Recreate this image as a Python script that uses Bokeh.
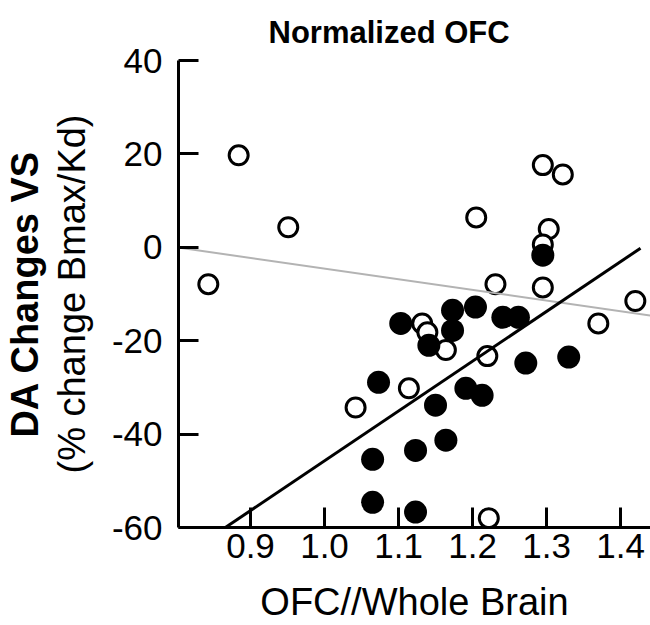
from bokeh.plotting import figure
from bokeh.embed import file_html
from bokeh.resources import INLINE
from bokeh.models import FixedTicker, ColumnDataSource, LinearAxis

# ---- data ----
open_x = [0.884, 0.951, 0.843, 1.205, 1.295, 1.322, 1.303, 1.295, 1.295, 1.231,
          1.420, 1.370, 1.132, 1.139, 1.164, 1.220, 1.114, 1.042, 1.222]
open_y = [19.7, 4.3, -7.9, 6.4, 17.6, 15.6, 3.9, 0.6, -8.6, -7.9,
          -11.5, -16.3, -16.3, -18.2, -22.0, -23.3, -30.2, -34.3, -58.0]

filled_x = [1.295, 1.103, 1.173, 1.204, 1.173, 1.141, 1.241, 1.262, 1.272, 1.330,
            1.073, 1.150, 1.191, 1.213, 1.164, 1.123, 1.065, 1.065, 1.123]
filled_y = [-1.7, -16.3, -13.5, -12.8, -17.8, -21.0, -15.0, -15.0, -24.8, -23.5,
            -28.9, -33.8, -30.2, -31.7, -41.3, -43.5, -45.4, -54.6, -56.7]

# regression lines (end points)
open_fit_x = [0.80, 1.44]
open_fit_y = [0.0, -14.6]
filled_fit_x = [0.866, 1.427]
filled_fit_y = [-60.0, -0.2]

x_ticks = [0.9, 1.0, 1.1, 1.2, 1.3, 1.4]
x_tick_labels = ["0.9", "1.0", "1.1", "1.2", "1.3", "1.4"]
y_ticks = [-60, -40, -20, 0, 20, 40]
y_tick_labels = ["-60", "-40", "-20", "0", "20", "40"]

title_text = "Normalized OFC"
x_title = "OFC//Whole Brain"
y_title_1 = "DA Changes VS"
y_title_2 = "(% change Bmax/Kd)"

FONT = "Liberation Sans"

p = figure(width=650, height=625, output_backend="svg", toolbar_location=None,
           x_range=(0.8027, 1.4405), y_range=(-60, 40),
           min_border_left=178, min_border_right=0, min_border_top=60,
           min_border_bottom=98)

p.outline_line_color = None
p.xgrid.visible = False
p.ygrid.visible = False
p.background_fill_color = "white"
p.border_fill_color = "white"

# title
p.title.text = title_text
p.title.text_font = FONT
p.title.text_font_size = "31px"
p.title.text_font_style = "bold"
p.title.text_color = "black"
p.title.align = "left"
p.title.offset = 90
p.title.standoff = 22

# axes
for ax in (p.xaxis[0], p.yaxis[0]):
    ax.axis_line_width = 3
    ax.axis_line_color = "black"
    ax.major_tick_line_width = 3
    ax.major_tick_line_color = "black"
    ax.major_tick_in = 20
    ax.major_tick_out = 0
    ax.minor_tick_line_color = None
    ax.major_label_text_font = FONT
    ax.major_label_text_font_size = "35px"
    ax.major_label_text_color = "black"
    ax.axis_label_text_font = FONT
    ax.axis_label_text_font_size = "38px"
    ax.axis_label_text_font_style = "normal"
    ax.axis_label_text_color = "black"

p.xaxis.ticker = FixedTicker(ticks=x_ticks)
p.yaxis.ticker = FixedTicker(ticks=y_ticks)
p.xaxis.major_label_overrides = dict(zip(x_ticks, x_tick_labels))
p.yaxis.major_label_overrides = dict(zip(y_ticks, y_tick_labels))
p.xaxis.major_label_standoff = 6
p.yaxis.major_label_standoff = 16
p.xaxis.axis_label = x_title
p.yaxis.axis_label = y_title_2
p.xaxis.axis_label_standoff = 20
p.yaxis.axis_label_standoff = 16

# outer (bold) first line of the y title as a label-only axis
outer = LinearAxis(ticker=FixedTicker(ticks=[]), axis_label=y_title_1,
                   axis_line_color=None, major_tick_line_color=None,
                   minor_tick_line_color=None, major_tick_in=0, major_tick_out=0,
                   major_label_text_font_size="0px", major_label_standoff=0,
                   axis_label_standoff=2,
                   axis_label_text_font=FONT, axis_label_text_font_size="38px",
                   axis_label_text_font_style="bold", axis_label_text_color="black")
p.add_layout(outer, "left")

open_src = ColumnDataSource(dict(x=open_x, y=open_y))
filled_src = ColumnDataSource(dict(x=filled_x, y=filled_y))

p.scatter("x", "y", source=open_src, size=19, marker="circle",
          fill_color="white", line_color="black", line_width=3)
p.scatter("x", "y", source=filled_src, size=23, marker="circle",
          fill_color="black", line_color=None)

p.line(open_fit_x, open_fit_y, line_color="#b3b3b3", line_width=2)
p.line(filled_fit_x, filled_fit_y, line_color="black", line_width=3)

open("out.html", "w").write(file_html(p, INLINE))
